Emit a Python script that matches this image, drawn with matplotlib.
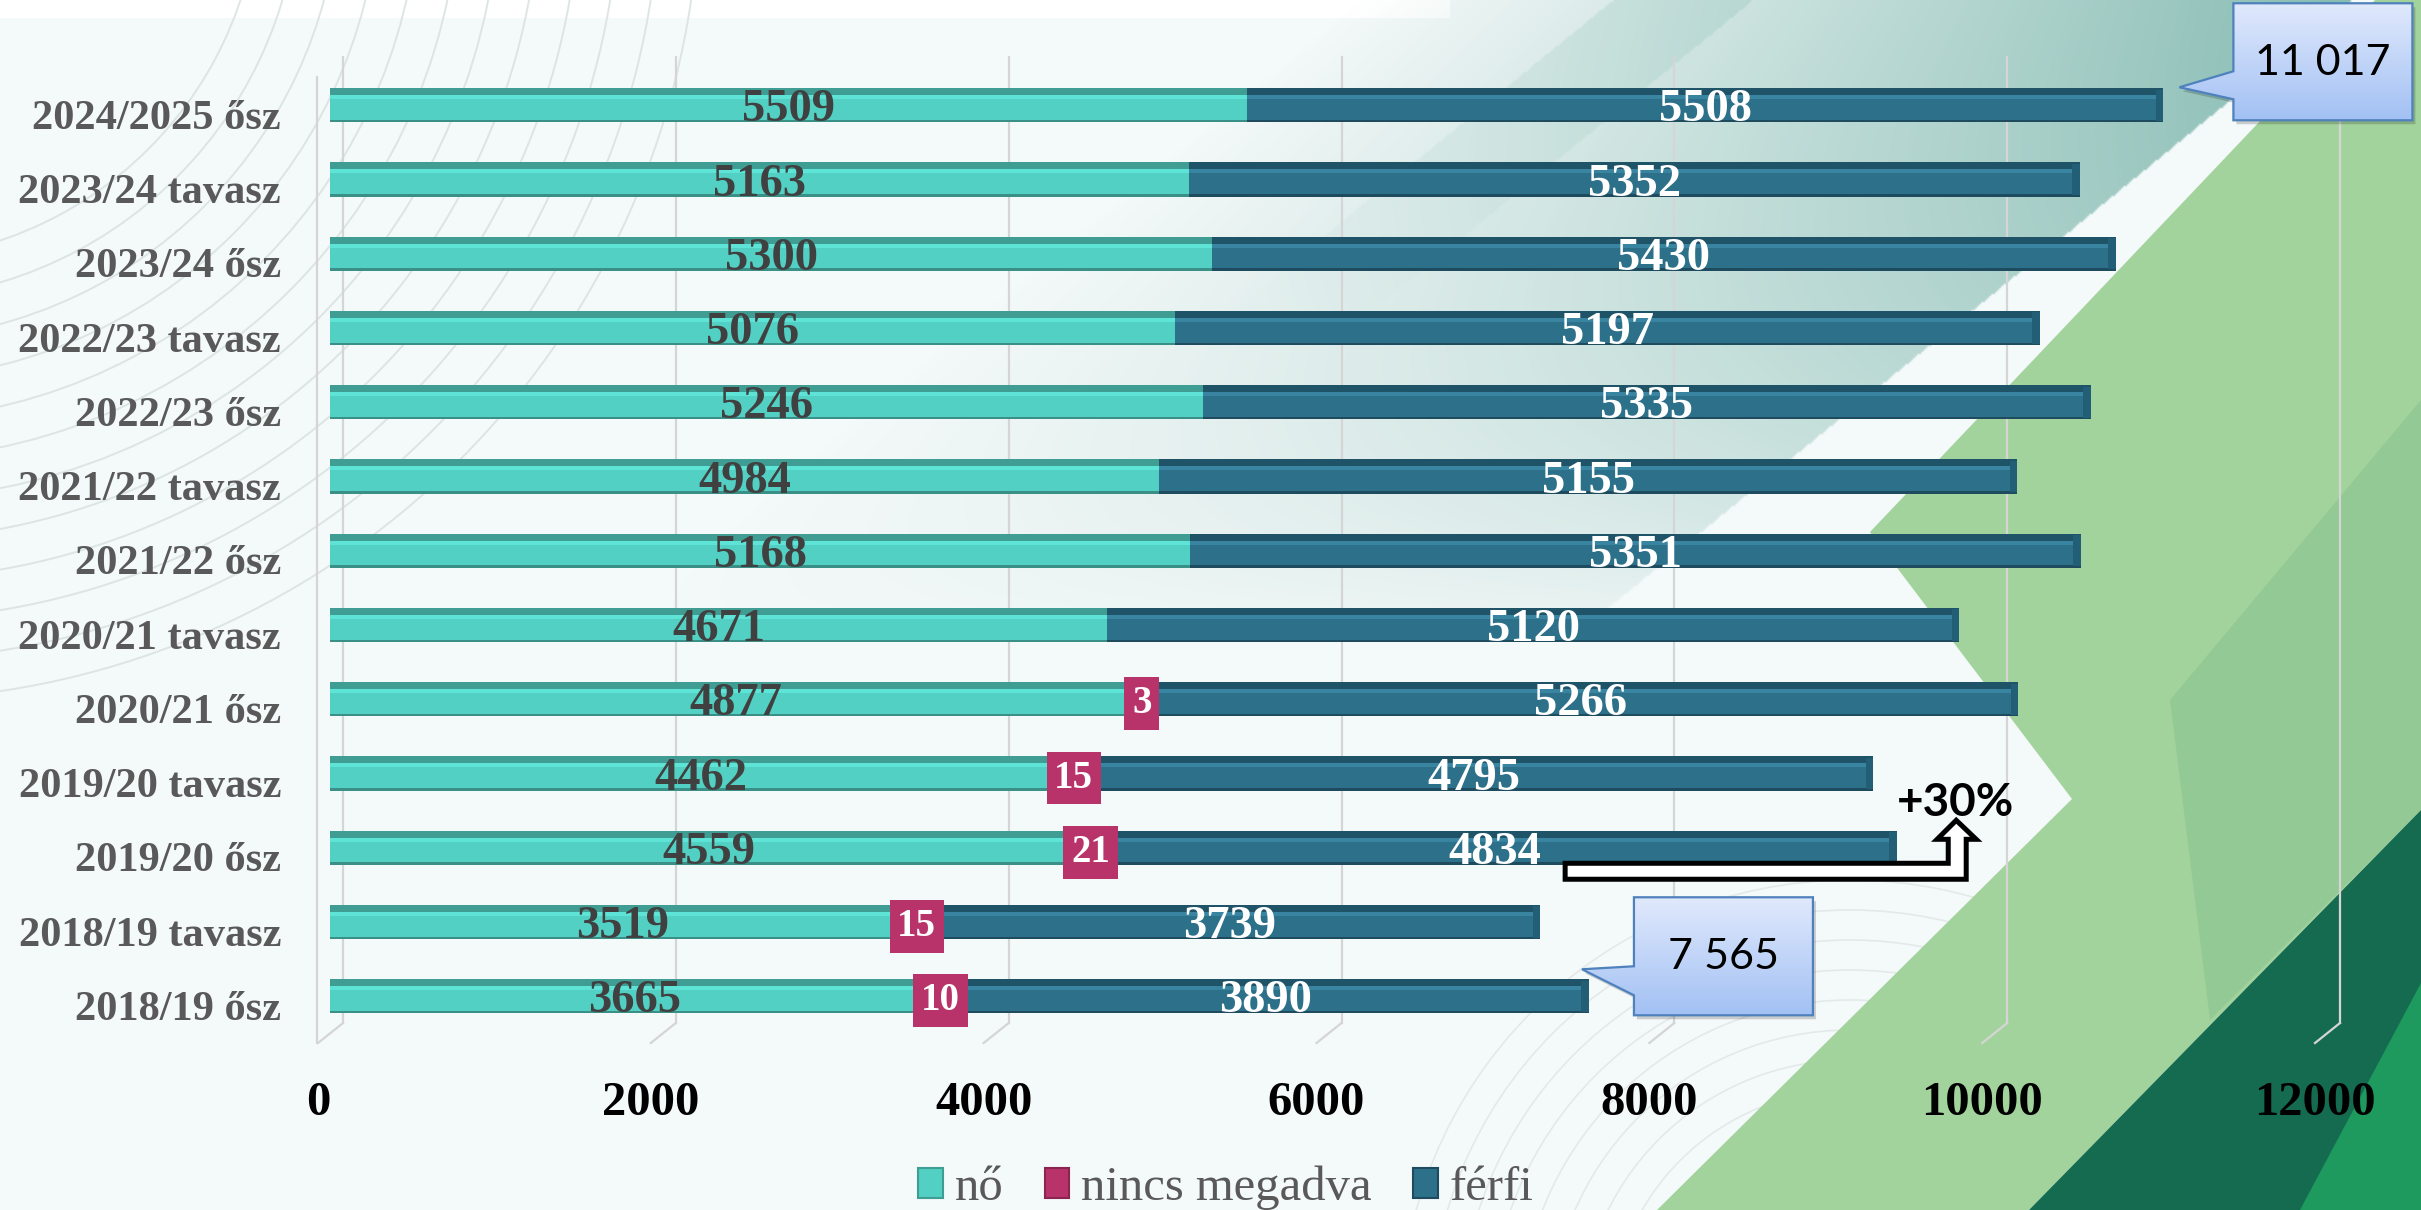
import numpy as np
import matplotlib.pyplot as plt
import matplotlib.transforms as mtransforms
from matplotlib.patches import Polygon, Rectangle, Patch, Circle
from matplotlib.colors import LinearSegmentedColormap

plt.rcParams['font.family'] = ['Liberation Serif', 'DejaVu Serif']

# adatok, felülről lefelé
kategoriak = ['2024/2025 ősz', '2023/24 tavasz', '2023/24 ősz', '2022/23 tavasz',
              '2022/23 ősz', '2021/22 tavasz', '2021/22 ősz', '2020/21 tavasz',
              '2020/21 ősz', '2019/20 tavasz', '2019/20 ősz', '2018/19 tavasz',
              '2018/19 ősz']
no = [5509, 5163, 5300, 5076, 5246, 4984, 5168, 4671, 4877, 4462, 4559, 3519, 3665]
nincs = [0, 0, 0, 0, 0, 0, 0, 0, 3, 15, 21, 15, 10]
ferfi = [5508, 5352, 5430, 5197, 5335, 5155, 5351, 5120, 5266, 4795, 4834, 3739, 3890]
x_ticks = [0, 2000, 4000, 6000, 8000, 10000, 12000]
sorozat_nevek = ['nő', 'nincs megadva', 'férfi']
novekedes_szoveg = '+30%'

# színek
TEAL = dict(main='#52D0C3', top='#3F9D93', hl='#5EE4D6', bot='#3A8F86')
NAVY = dict(main='#2C708A', top='#1F5367', hl='#3884A1', bot='#1E4C5E')
PINK = '#B8336A'
SANS = ['Lato', 'DejaVu Sans']

W, H = 2421, 1210
X0, X1 = 330, 2327          # 0 és 12000 helye képpontban
Y_TOP, Y_BOT = 57, 1023
YLIM = (12.36, -0.65)


def px(v):
    return X0 + v * (X1 - X0) / 12000


def py(r):
    return Y_TOP + (r - YLIM[1]) * (Y_BOT - Y_TOP) / (YLIM[0] - YLIM[1])


fig = plt.figure(figsize=(W / 100, H / 100), dpi=100)

# ---- háttér ----
bg = fig.add_axes([0, 0, 1, 1], zorder=0)
bg.set_xlim(0, W)
bg.set_ylim(H, 0)
bg.axis('off')
bg.add_patch(Rectangle((0, 0), W, H, fc='#F4F9F9', ec='none'))
bg.add_patch(Rectangle((0, 0), 1450, 18, fc='white', ec='none'))

# halvány szintvonalak
for r in np.arange(380, 860, 40):
    bg.add_patch(Circle((-120, -120), r, fc='none', ec='#D8DFDF', lw=1.4, alpha=0.8))
for r in np.arange(120, 480, 30):
    bg.add_patch(Circle((1850, 1330), r, fc='none', ec='#DDE3E3', lw=1.2, alpha=0.7))

# áttetsző türkiz sáv
s = 2
yy, xx = np.mgrid[0:H:s, 0:W:s].astype(np.float32)
d = (2352 - 1.226 * yy) - xx
a = np.clip(1 - d / 1000, 0, 1) * np.clip(1 - yy / 640, 0, 1) ** 0.7
band = ((d > 600) & (d < 740)).astype(np.float32) * 0.14 * np.clip(1 - yy / 320, 0, 1)
a = (0.78 * a ** 1.1 + band) * (d > 0)
img = np.zeros(yy.shape + (4,), dtype=np.float32)
img[..., 0] = 0.40
img[..., 1] = 0.67
img[..., 2] = 0.62
img[..., 3] = np.clip(a, 0, 1)
bg.imshow(img, extent=(0, W, H, 0), aspect='auto', interpolation='bilinear', zorder=1)

# zöld alakzatok
bg.add_patch(Polygon([(2375, 0), (W, 0), (W, 810), (2029, H), (1657, H), (2072, 799),
                      (1870, 532)], closed=True, fc='#A3D39C', ec='none', zorder=2))
bg.add_patch(Polygon([(W, 400), (W, 810), (2210, 1020), (2170, 700)], closed=True,
                     fc='#6FB283', ec='none', alpha=0.3, zorder=2))
bg.add_patch(Polygon([(W, 810), (W, H), (2029, H)], closed=True, fc='#146B4F',
                     ec='none', zorder=3))
bg.add_patch(Polygon([(W, 983), (W, H), (2300, H)], closed=True, fc='#1F9A5E',
                     ec='none', zorder=3))
bg.set_xlim(0, W)
bg.set_ylim(H, 0)

# 3D rács: hátsó rácsvonalak, padló és bal fal
for v in x_ticks:
    xb = px(v) + 13
    bg.plot([xb, xb], [Y_TOP, Y_BOT], color='#D5D5D5', lw=1.6, zorder=4)
    bg.plot([xb, px(v) - 12], [Y_BOT, Y_BOT + 20], color='#D5D5D5', lw=1.6, zorder=4)
bg.plot([px(0) - 13, px(0) - 13], [Y_TOP + 20, Y_BOT + 20], color='#D5D5D5', lw=1.6, zorder=4)

# ---- fő diagram ----
ax = fig.add_axes([X0 / W, 1 - Y_BOT / H, (X1 - X0) / W, (Y_BOT - Y_TOP) / H], zorder=2)
ax.patch.set_alpha(0)
ax.set_xlim(0, 12000)
ax.set_ylim(*YLIM)
for sp in ax.spines.values():
    sp.set_visible(False)
ax.set_xticks([])
ax.set_yticks([])

y = np.arange(len(kategoriak))
h = 0.46
t, hl, b = 0.094, 0.054, 0.034


def sav(left, width, c):
    ax.barh(y, width, left=left, height=h, color=c['main'], zorder=3)
    ax.barh(y - h / 2 + t / 2, width, left=left, height=t, color=c['top'], zorder=4)
    ax.barh(y - h / 2 + t + hl / 2, width, left=left, height=hl, color=c['hl'], zorder=4)
    ax.barh(y + h / 2 - b / 2, width, left=left, height=b, color=c['bot'], zorder=4)


no_a = np.array(no)
nincs_a = np.array(nincs)
ferfi_a = np.array(ferfi)
osszeg = no_a + nincs_a + ferfi_a

sav(0, no_a, TEAL)
ax.barh(y, nincs_a, left=no_a, height=h, color=PINK, zorder=3)
sav(no_a + nincs_a, ferfi_a, NAVY)
ax.barh(y, 45, left=osszeg - 45, height=h * 0.92, color='#225E76', zorder=5)

# adatfeliratok
for i in y:
    ax.text(no_a[i] / 2, i, str(no_a[i]), ha='center', va='center_baseline',
            fontsize=33.5, fontweight='bold', color='#404040', zorder=6)
    ax.text(no_a[i] + nincs_a[i] + ferfi_a[i] / 2, i, str(ferfi_a[i]), ha='center',
            va='center_baseline', fontsize=33.5, fontweight='bold', color='white', zorder=6)
    if nincs_a[i] > 0:
        ax.text(no_a[i] + nincs_a[i] / 2, i, str(nincs_a[i]), ha='center',
                va='center_baseline', fontsize=28, fontweight='bold', color='white', zorder=7,
                bbox=dict(boxstyle='square,pad=0.2', fc=PINK, ec='none'))

# kategória feliratok
tr_cat = mtransforms.offset_copy(ax.get_yaxis_transform(), fig=fig, x=-49, y=-9, units='dots')
for i, k in zip(y, kategoriak):
    ax.text(0, i, k, transform=tr_cat, ha='right', va='center_baseline',
            fontsize=30.5, fontweight='bold', color='#595959')

# x tengely feliratai (elülső síkon)
tr_x = mtransforms.offset_copy(ax.get_xaxis_transform(), fig=fig, x=-12, y=0, units='dots')
for v in x_ticks:
    ax.text(v, -0.0776, str(v), transform=tr_x, ha='center', va='center_baseline',
            fontsize=35, fontweight='bold', color='black')

# növekedési nyíl
nyil = [(7422, 10.209), (9724, 10.209), (9724, 9.886), (9657, 9.886), (9772, 9.630),
        (9892, 9.886), (9832, 9.886), (9832, 10.424), (7422, 10.424)]
ax.add_patch(Polygon(nyil, closed=True, fc='white', ec='black', lw=3.6, zorder=6,
                     clip_on=False, joinstyle='miter'))
ax.text(9766, 9.40, novekedes_szoveg, ha='center', va='center', fontsize=33,
        fontweight='bold', family=SANS, color='black', zorder=7)

# ---- szövegbuborékok ----
ov = fig.add_axes([0, 0, 1, 1], zorder=4)
ov.patch.set_alpha(0)
ov.axis('off')
ov.set_autoscale_on(False)
ov.set_xlim(0, W)
ov.set_ylim(H, 0)
kek = LinearSegmentedColormap.from_list('kek', ['#E0E9FC', '#A3C1F4'])


def buborek(tx, ty, dx0, dy0, bw, bh, b0, b1, szoveg):
    bx0, by0 = tx + dx0, ty + dy0
    verts = [(bx0, by0), (bx0 + bw, by0), (bx0 + bw, by0 + bh), (bx0, by0 + bh),
             (bx0, ty + b1), (tx, ty), (bx0, ty + b0)]
    ov.add_patch(Polygon([(vx + 3, vy + 4) for vx, vy in verts], closed=True,
                         fc='black', ec='none', alpha=0.18, zorder=1))
    poly = Polygon(verts, closed=True, fc='none', ec='#4F81BD', lw=1.6, zorder=3)
    ov.add_patch(poly)
    im = ov.imshow(np.linspace(0, 1, 100)[:, None], cmap=kek, aspect='auto',
                   extent=(tx, bx0 + bw, by0 + bh, by0), zorder=2)
    im.set_clip_path(poly)
    ov.text(bx0 + bw / 2, by0 + bh / 2 + 1, szoveg, ha='center', va='center', fontsize=31,
            family=SANS, color='black', zorder=4)


def ezres(n):
    return f'{n:,}'.replace(',', ' ')


buborek(px(osszeg[0]) + 16, py(0) - 18, 54, -84, 179, 117, -16, 12, ezres(osszeg[0]))
buborek(px(osszeg[12]) - 7, py(12) - 27, 52, -72, 179, 118, -3, 26, ezres(osszeg[12]))
ov.set_xlim(0, W)
ov.set_ylim(H, 0)

# jelmagyarázat
fogantyuk = [Patch(fc=TEAL['main'], ec=TEAL['top'], lw=1.5),
             Patch(fc=PINK, ec='#8A2450', lw=1.5),
             Patch(fc=NAVY['main'], ec=NAVY['bot'], lw=1.5)]
leg = fig.legend(fogantyuk, sorozat_nevek, ncol=3, loc='center',
                 bbox_to_anchor=(1226 / W, 1 - 1188 / H), frameon=False, fontsize=35,
                 handlelength=0.5, handleheight=0.55, handletextpad=0.25,
                 columnspacing=0.85, labelcolor='#595959', borderaxespad=0)

fig.savefig('out.png', dpi=100)
